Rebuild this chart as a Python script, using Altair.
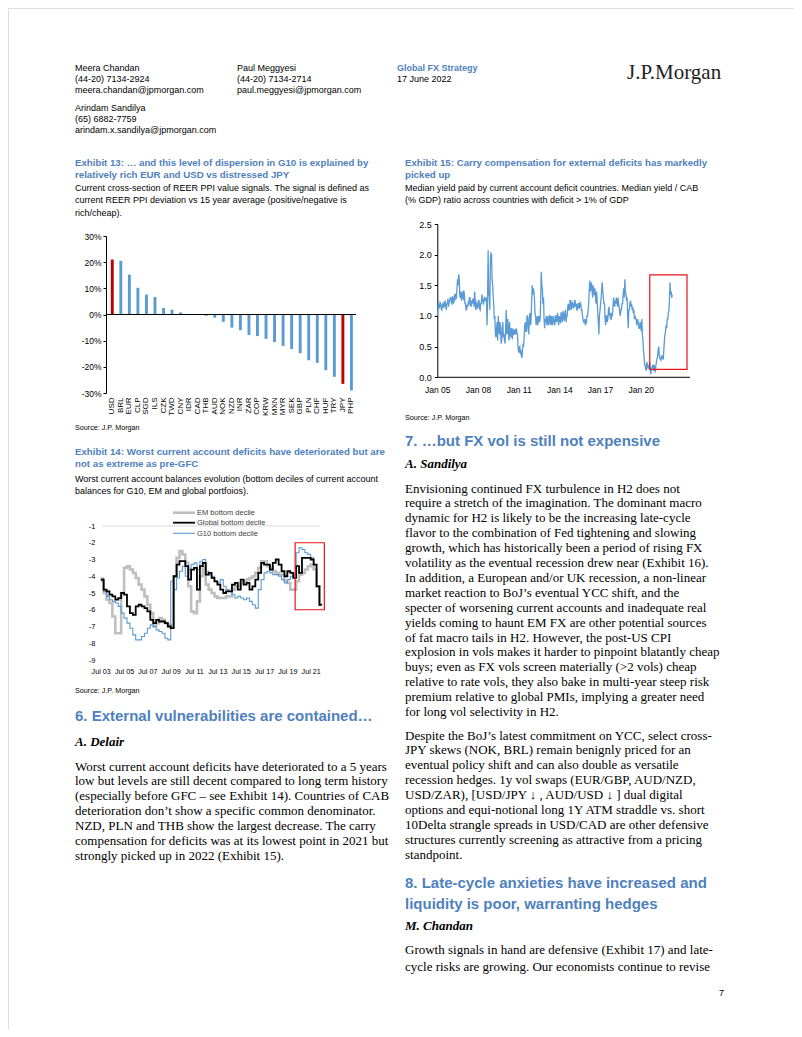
import altair as alt
import pandas as pd

# ---------------- data ----------------
currencies = ["USD", "BRL", "EUR", "CLP", "SGD", "ILS", "CZK", "TWD", "CNY", "IDR",
              "CAD", "THB", "AUD", "NOK", "NZD", "INR", "ZAR", "COP", "KRW", "MXN",
              "MYR", "SEK", "GBP", "PLN", "CHF", "HUF", "TRY", "JPY", "PHP"]
reer_signal_pct = [21.0, 20.5, 15.2, 10.2, 7.6, 6.7, 2.5, 1.8, 0.8, 0.2,
                   0.1, -0.5, -1.2, -2.8, -5.0, -6.0, -7.8, -8.2, -9.3, -10.5,
                   -12.0, -13.2, -14.8, -17.5, -18.5, -21.3, -23.8, -26.5, -29.0]
highlight_ccy = ["USD", "JPY"]
reer_ticks = [-0.3, -0.2, -0.1, 0.0, 0.1, 0.2, 0.3]

cab_series = ["EM bottom decile", "Global bottom decile", "G10 bottom decile"]
cab_em = [-4.3, -5.0, -5.4, -5.6, -6.4, -7.4, -7.4, -5.0, -3.5, -3.4, -3.6, -3.8, -4.1, -4.5, -4.8, -5.2,
          -5.7, -6.2, -7.0, -6.8, -6.5, -6.6, -6.8, -6.9, -7.0, -4.0, -2.9, -2.5, -2.7, -3.2, -4.6, -6.1,
          -6.2, -5.5, -4.0, -3.4, -4.5, -4.8, -5.0, -5.2, -5.3, -5.3, -5.3, -5.2, -5.2, -4.8, -4.6, -4.6,
          -4.4, -4.3, -4.2, -4.1, -4.0, -3.8, -3.5, -3.1, -3.1, -3.4, -3.5, -3.7, -3.8, -3.9, -3.9, -4.3,
          -4.4, -4.8, -4.8, -4.3, -3.9, -3.8, -3.6, -3.4, -3.3, -3.6, -4.6, -5.7, -5.75]
cab_global = [-4.2, -4.8, -4.9, -5.1, -5.2, -5.4, -5.3, -5.0, -5.1, -5.8, -6.2, -6.3, -5.8, -5.7, -5.8, -5.9,
              -6.1, -6.6, -6.8, -6.6, -6.7, -6.7, -6.8, -7.0, -7.1, -4.0, -3.3, -3.1, -3.1, -3.4, -4.2, -3.6,
              -3.5, -4.8, -3.4, -3.2, -3.9, -3.8, -4.1, -4.3, -4.5, -4.8, -5.0, -4.9, -4.9, -4.5, -4.4, -4.8,
              -4.2, -4.5, -4.4, -4.8, -4.6, -4.2, -3.8, -3.2, -3.3, -3.3, -3.6, -3.2, -3.0, -3.3, -3.7, -4.0,
              -3.7, -3.8, -4.1, -3.4, -3.8, -2.9, -2.9, -2.9, -3.0, -3.3, -4.6, -5.7, -5.75]
cab_g10 = [-4.1, -4.9, -5.2, -5.4, -5.5, -5.6, -5.8, -6.2, -6.5, -6.8, -7.1, -7.5, -7.8, -7.8, -7.6, -7.4,
           -7.1, -6.9, -7.0, -7.2, -7.3, -7.4, -7.7, -7.8, -4.3, -4.8, -4.1, -3.7, -3.4, -4.0, -3.6, -3.3,
           -3.2, -3.6, -3.1, -3.0, -3.7, -3.9, -4.0, -4.3, -4.4, -4.2, -4.6, -4.8, -4.9, -5.1, -5.3, -5.2,
           -5.3, -5.4, -5.3, -5.5, -5.7, -5.9, -4.8, -4.2, -3.8, -3.7, -3.8, -3.9, -3.9, -4.0, -4.2, -4.4,
           -4.2, -4.0, -3.9, -2.6, -2.3, -2.4, -2.6, -2.7, -2.9, -3.3, -4.6, -5.7, -5.75]
cab_dates = list(pd.date_range("2003-07-01", periods=76, freq="QS").strftime("%Y-%m-%d")) + ["2022-05-20"]
cab_ticks = [-9, -8, -7, -6, -5, -4, -3, -2, -1]
cab_box_start = ["2020-03-01"]
cab_box_end = ["2022-09-01"]
cab_box_top = [-2.0]
cab_box_bottom = [-6.0]

# semi-monthly readings (1st and 15th of each month)
carry_2005 = [1.0, 1.08, 1.2, 1.12, 1.15, 1.22, 1.2, 1.12, 1.1, 1.18, 1.2, 1.14,
              1.15, 1.22, 1.25, 1.15, 1.1, 1.2, 1.2, 1.28, 1.15, 1.22, 1.25, 1.3]
carry_2006 = [1.3, 1.22, 1.2, 1.32, 1.3, 1.2, 1.25, 1.35, 1.35, 1.28, 1.3, 1.45,
              1.6, 1.5, 1.68, 1.62, 1.3, 1.4, 1.35, 1.25, 1.4, 1.3, 1.28, 1.42]
carry_2007 = [1.35, 1.2, 1.2, 1.1, 1.1, 1.18, 1.15, 1.22, 1.2, 1.3, 1.3, 1.18,
              1.15, 1.25, 1.2, 1.28, 1.25, 1.15, 1.4, 1.3, 1.1, 1.22, 1.2, 1.12]
carry_2008 = [1.15, 1.25, 1.25, 1.12, 1.1, 1.2, 1.2, 1.35, 1.3, 1.22, 1.2, 1.28,
              1.3, 1.25, 1.25, 1.3, 0.85, 1.2, 2.07, 1.4, 1.3, 1.1, 1.9, 2.02]
carry_2009 = [2.0, 1.6, 1.5, 1.3, 1.2, 0.95, 1.0, 0.7, 0.65, 0.8, 0.9, 0.6,
              1.0, 0.85, 0.7, 0.9, 0.8, 0.55, 0.6, 0.8, 0.9, 0.65, 0.7, 0.6]
carry_2010 = [0.55, 0.8, 1.1, 0.7, 0.75, 0.95, 0.7, 0.6, 0.9, 0.75, 0.65, 0.8,
              0.75, 0.62, 0.8, 0.7, 0.7, 0.78, 0.75, 0.7, 0.8, 0.72, 0.7, 0.5]
carry_2011 = [0.4, 0.48, 0.5, 0.38, 0.45, 0.35, 0.32, 0.45, 0.55, 0.5, 0.7, 0.85,
              0.9, 0.75, 0.75, 1.0, 1.0, 0.8, 0.7, 0.95, 1.05, 0.85, 0.9, 1.2]
carry_2012 = [1.5, 1.35, 1.45, 1.4, 1.3, 1.05, 1.0, 0.85, 0.9, 1.0, 0.85, 0.95,
              1.0, 0.9, 0.95, 1.2, 1.72, 1.5, 1.45, 1.2, 1.3, 0.95, 0.8, 0.95]
carry_2013 = [0.9, 1.0, 0.85, 0.95, 1.0, 0.85, 0.9, 1.02, 0.95, 0.85, 1.0, 0.9,
              0.85, 1.0, 0.95, 0.88, 0.85, 1.0, 1.0, 0.9, 0.95, 1.05, 0.9, 0.85]
carry_2014 = [1.0, 0.92, 0.9, 1.05, 1.05, 0.9, 0.95, 1.08, 1.0, 0.92, 1.05, 1.1,
              0.9, 1.0, 1.0, 1.15, 1.2, 1.1, 1.1, 1.25, 1.25, 1.1, 1.15, 1.22]
carry_2015 = [1.2, 1.12, 1.15, 1.25, 1.25, 1.15, 1.2, 1.1, 1.1, 1.2, 1.2, 1.12,
              1.15, 1.22, 1.2, 1.1, 1.1, 1.0, 0.95, 0.9, 0.9, 0.95, 0.85, 0.92]
carry_2016 = [0.9, 1.0, 1.0, 1.1, 1.2, 1.4, 1.58, 1.4, 1.45, 1.55, 1.4, 1.3,
              1.5, 1.35, 1.35, 1.45, 1.3, 1.2, 1.4, 1.25, 1.05, 0.9, 0.7, 1.0]
carry_2017 = [1.1, 1.2, 1.3, 1.45, 1.55, 1.4, 1.3, 1.2, 1.2, 0.95, 0.85, 1.0,
              1.0, 0.9, 0.95, 1.1, 1.15, 1.0, 1.05, 0.95, 0.95, 1.05, 1.0, 1.15]
carry_2018 = [1.3, 1.2, 1.15, 1.25, 1.2, 1.3, 1.25, 1.15, 1.3, 1.2, 1.15, 1.05,
              1.0, 1.1, 1.1, 1.2, 1.2, 1.35, 1.45, 1.3, 1.6, 1.4, 1.35, 1.25]
carry_2019 = [1.3, 1.0, 0.8, 1.1, 1.1, 1.2, 1.25, 1.15, 1.2, 1.1, 1.15, 1.05,
              1.1, 0.95, 1.0, 0.95, 0.95, 0.85, 0.9, 0.95, 0.85, 0.8, 0.8, 0.9]
carry_2020 = [0.85, 0.75, 0.95, 0.7, 0.6, 0.45, 0.35, 0.2, 0.2, 0.12, 0.12, 0.25,
              0.2, 0.15, 0.15, 0.2, 0.25, 0.1, 0.05, 0.15, 0.15, 0.2, 0.2, 0.1]
carry_2021 = [0.2, 0.12, 0.1, 0.2, 0.25, 0.3, 0.35, 0.45, 0.5, 0.35, 0.3, 0.3,
              0.28, 0.35, 0.35, 0.3, 0.3, 0.45, 0.6, 0.7, 0.75, 0.85, 0.8, 0.95]
carry_2022 = [0.95, 1.05, 1.1, 1.3, 1.55, 1.35, 1.4, 1.3, 1.35]
carry_values = (carry_2005 + carry_2006 + carry_2007 + carry_2008 + carry_2009 + carry_2010 +
                carry_2011 + carry_2012 + carry_2013 + carry_2014 + carry_2015 + carry_2016 +
                carry_2017 + carry_2018 + carry_2019 + carry_2020 + carry_2021 + carry_2022)
carry_dates = list(pd.date_range("2005-01-01", periods=len(carry_values), freq="SMS").strftime("%Y-%m-%d"))
carry_ticks = [0.0, 0.5, 1.0, 1.5, 2.0, 2.5]
carry_box_start = ["2020-09-01"]
carry_box_end = ["2023-06-01"]
carry_box_top = [1.67]
carry_box_bottom = [0.13]

# ---------------- texts ----------------
hdr_meera = ["Meera Chandan", "(44-20) 7134-2924", "meera.chandan@jpmorgan.com"]
hdr_arindam = ["Arindam Sandilya", "(65) 6882-7759", "arindam.x.sandilya@jpmorgan.com"]
hdr_paul = ["Paul Meggyesi", "(44-20) 7134-2714", "paul.meggyesi@jpmorgan.com"]
ex13_title = ["Exhibit 13: … and this level of dispersion in G10 is explained by",
              "relatively rich EUR and USD vs distressed JPY"]
ex13_sub = ["Current cross-section of REER PPI value signals. The signal is defined as",
            "current REER PPI deviation vs 15 year average (positive/negative is",
            "rich/cheap)."]
ex14_title = ["Exhibit 14: Worst current account deficits have deteriorated but are",
              "not as extreme as pre-GFC"]
ex14_sub = ["Worst current account balances evolution (bottom deciles of current account",
            "balances for G10, EM and global portfoios)."]
ex15_title = ["Exhibit 15: Carry compensation for external deficits has markedly", "picked up"]
ex15_sub = ["Median yield paid by current account deficit countries. Median yield / CAB",
            "(% GDP) ratio across countries with deficit > 1% of GDP"]
para6 = ["Worst current account deficits have deteriorated to a 5 years",
         "low but levels are still decent compared to long term history",
         "(especially before GFC – see Exhibit 14). Countries of CAB",
         "deterioration don’t show a specific common denominator.",
         "NZD, PLN and THB show the largest decrease. The carry",
         "compensation for deficits was at its lowest point in 2021 but",
         "strongly picked up in 2022 (Exhibit 15)."]
para7a = ["Envisioning continued FX turbulence in H2 does not",
          "require a stretch of the imagination. The dominant macro",
          "dynamic for H2 is likely to be the increasing late-cycle",
          "flavor to the combination of Fed tightening and slowing",
          "growth, which has historically been a period of rising FX",
          "volatility as the eventual recession drew near (Exhibit 16).",
          "In addition, a European and/or UK recession, a non-linear",
          "market reaction to BoJ’s eventual YCC shift, and the",
          "specter of worsening current accounts and inadequate real",
          "yields coming to haunt EM FX are other potential sources",
          "of fat macro tails in H2. However, the post-US CPI",
          "explosion in vols makes it harder to pinpoint blatantly cheap",
          "buys; even as FX vols screen materially (>2 vols) cheap",
          "relative to rate vols, they also bake in multi-year steep risk",
          "premium relative to global PMIs, implying a greater need",
          "for long vol selectivity in H2."]
para7b = ["Despite the BoJ’s latest commitment on YCC, select cross-",
          "JPY skews (NOK, BRL) remain benignly priced for an",
          "eventual policy shift and can also double as versatile",
          "recession hedges.  1y vol swaps (EUR/GBP, AUD/NZD,",
          "USD/ZAR), [USD/JPY ↓ , AUD/USD ↓ ] dual digital",
          "options and equi-notional long 1Y ATM straddle vs. short",
          "10Delta strangle spreads in USD/CAD are other defensive",
          "structures currently screening as attractive from a pricing",
          "standpoint."]
head8 = ["8. Late-cycle anxieties have increased and", "liquidity is poor, warranting hedges"]
para8 = ["Growth signals in hand are defensive (Exhibit 17) and late-",
         "cycle risks are growing. Our economists continue to revise"]

# ---------------- styles ----------------
SANS = "Liberation Sans"
SERIF = "Liberation Serif"
HBLUE = "#4F81BD"
BAR_BLUE = "#5B9BD5"
RED = "#C00000"
BOX_RED = "#E8141B"
M = 8  # page margin
ASCII_MINUS = "replace(datum.label, '\u2212', '-')"

one = pd.DataFrame({"k": [0]})


def DT(y, m, d=1):
    return alt.DateTime(year=y, month=m, date=d, utc=True)


def txt(lines, x, y, size, color="#000000", weight="normal", style="normal",
        font=SANS, lh=None, align="left"):
    return alt.Chart(one).mark_text(
        text=lines, align=align, baseline="alphabetic", font=font, fontSize=size,
        fontWeight=weight, fontStyle=style, color=color,
        lineHeight=lh if lh else size * 1.2
    ).encode(x=alt.value(x - M), y=alt.value(y - M))


texts = [
    txt(hdr_meera, 75, 70.5, 9, lh=11),
    txt(hdr_arindam, 75, 110.5, 9, lh=11),
    txt(hdr_paul, 237, 70.5, 9, lh=11),
    txt(["Global FX Strategy"], 397, 70.5, 9, color=HBLUE, weight="bold"),
    txt(["17 June 2022"], 397, 81.5, 9),
    txt(["J.P.Morgan"], 627, 79, 21, font=SERIF, color="#222222"),
    txt(ex13_title, 75, 165.5, 9.7, color=HBLUE, weight="bold", lh=12),
    txt(ex13_sub, 75, 190.5, 9, lh=12.5),
    txt(["Source: J.P. Morgan"], 75, 430, 7.2),
    txt(ex14_title, 75, 454.5, 9.7, color=HBLUE, weight="bold", lh=12),
    txt(ex14_sub, 75, 481.5, 9, lh=12.5),
    txt(["Source: J.P. Morgan"], 75, 693, 7.2),
    txt(["6. External vulnerabilities are contained…"], 75, 720.5, 15, color=HBLUE, weight="bold"),
    txt(["A. Delair"], 75, 745.5, 13, font=SERIF, weight="bold", style="italic"),
    txt(para6, 75, 770.5, 13, font=SERIF, lh=14.9),
    txt(ex15_title, 405, 165.5, 9.7, color=HBLUE, weight="bold", lh=12),
    txt(ex15_sub, 405, 190.5, 9, lh=12.5),
    txt(["Source: J.P. Morgan"], 405, 420, 7.2),
    txt(["7. …but FX vol is still not expensive"], 405, 445.5, 15, color=HBLUE, weight="bold"),
    txt(["A. Sandilya"], 405, 467.5, 13, font=SERIF, weight="bold", style="italic"),
    txt(para7a, 405, 492.5, 13, font=SERIF, lh=14.9),
    txt(para7b, 405, 739.5, 13, font=SERIF, lh=14.9),
    txt(head8, 405, 887.5, 15, color=HBLUE, weight="bold", lh=21.5),
    txt(["M. Chandan"], 405, 929.5, 13, font=SERIF, weight="bold", style="italic"),
    txt(para8, 405, 953.5, 13, font=SERIF, lh=17.5),
    txt(["7"], 724, 996, 9, align="right"),
]

# ---------------- Exhibit 13: bars ----------------
df13 = pd.DataFrame({"ccy": currencies, "signal": [v / 100 for v in reer_signal_pct]})
x13 = alt.X("ccy:N", sort=None,
            scale=alt.Scale(type="band", range=[108 - M, 355.7 - M], paddingInner=0.66, paddingOuter=0.33),
            axis=alt.Axis(orient="bottom", offset=(393 - M) - 1021, title=None, labelAngle=270,
                          ticks=False, tickSize=0, domain=False, labelPadding=4, labelFontSize=8,
                          labelFont=SANS, labelColor="#000000", labelOverlap=False, grid=False))
y13 = alt.Y("signal:Q",
            scale=alt.Scale(domain=[-0.3, 0.3], range=[393 - M, 236 - M], nice=False, zero=False),
            axis=alt.Axis(orient="left", offset=-(106 - M), title=None, values=reer_ticks, format=".0%",
                          labelExpr=ASCII_MINUS,
                          grid=False, domainColor="#000000", tickColor="#000000", tickSize=3,
                          labelPadding=2, labelFontSize=8.5, labelFont=SANS, labelColor="#000000",
                          labelFlush=False))
bars13 = alt.Chart(df13).mark_bar().encode(
    x=x13, y=y13,
    color=alt.condition(alt.FieldOneOfPredicate(field="ccy", oneOf=highlight_ccy),
                        alt.value(RED), alt.value(BAR_BLUE)))
zero13 = alt.Chart(one).mark_rule(color="#000000", strokeWidth=1).encode(
    y=alt.datum(0), x=alt.value(106 - M), x2=alt.value(356 - M))
chart13 = alt.layer(bars13, zero13)

# ---------------- Exhibit 14: step lines ----------------
df14 = pd.DataFrame({
    "date": cab_dates * 3,
    "series": [cab_series[0]] * len(cab_em) + [cab_series[1]] * len(cab_global) + [cab_series[2]] * len(cab_g10),
    "value": cab_em + cab_global + cab_g10,
})
x14_scale = alt.Scale(type="utc", domain=[DT(2003, 7), DT(2021, 7)], range=[100.7 - M, 310.7 - M], nice=False)
y14_scale = alt.Scale(domain=[-9, -1], range=[660 - M, 526 - M], nice=False, zero=False)
x14_axis = alt.Axis(orient="bottom", offset=(664 - M) - 1021, title=None,
                    values=[DT(y, 7) for y in range(2003, 2022, 2)], format="%b %y",
                    grid=False, domain=False, ticks=False, tickSize=0, labelPadding=3,
                    labelFontSize=7.2, labelFont=SANS, labelColor="#000000", labelOverlap=False,
                    labelFlush=False)
y14_axis = alt.Axis(orient="left", offset=-(97 - M), title=None, values=cab_ticks, format="d",
                    labelExpr=ASCII_MINUS,
                    grid=False, domain=False, ticks=False, tickSize=0, labelPadding=2,
                    labelFontSize=7.5, labelFont=SANS, labelColor="#000000", labelFlush=False)
line_styles = {cab_series[0]: ("#BFBFBF", 2.6), cab_series[2]: ("#5B9BD5", 1.1), cab_series[1]: ("#000000", 1.8)}
lines14 = []
for s in [cab_series[0], cab_series[2], cab_series[1]]:
    c, w = line_styles[s]
    lines14.append(
        alt.Chart(df14).transform_filter(alt.datum.series == s)
        .mark_line(interpolate="step-after", color=c, strokeWidth=w)
        .encode(x=alt.X("date:T", scale=x14_scale, axis=x14_axis),
                y=alt.Y("value:Q", scale=y14_scale, axis=y14_axis)))
top14 = alt.Chart(one).mark_rule(color="#D9D9D9", strokeWidth=1).encode(
    y=alt.datum(-1), x=alt.value(102 - M), x2=alt.value(320 - M))
box14_df = pd.DataFrame({"start": cab_box_start, "end": cab_box_end, "top": cab_box_top, "bottom": cab_box_bottom})
box14 = alt.Chart(box14_df).mark_rect(fillOpacity=0, stroke=BOX_RED, strokeWidth=1.2).encode(
    x=alt.X("start:T", scale=x14_scale, axis=x14_axis), x2="end:T",
    y=alt.Y("top:Q", scale=y14_scale, axis=y14_axis), y2="bottom:Q")
chart14 = alt.layer(top14, *lines14, box14)

legend14 = []
for s, ly in zip(cab_series, [512.7, 522.7, 533.3]):
    c, w = line_styles[s]
    legend14.append(alt.Chart(one).mark_rule(color=c, strokeWidth=w).encode(
        x=alt.value(173 - M), x2=alt.value(195 - M), y=alt.value(ly - M)))
    legend14.append(txt([s], 197, ly + 2.6, 7.5, color="#404040"))

# ---------------- Exhibit 15: line ----------------
df15 = pd.DataFrame({"date": carry_dates, "value": carry_values})
x15_scale = alt.Scale(type="utc", domain=[DT(2005, 1), DT(2020, 1)], range=[437.3 - M, 640.7 - M], nice=False)
y15_scale = alt.Scale(domain=[0, 2.5], range=[377.3 - M, 224 - M], nice=False, zero=False)
x15_axis = alt.Axis(orient="bottom", offset=(377.3 - M) - 1021, title=None,
                    values=[DT(y, 1) for y in range(2005, 2021, 3)], format="%b %y",
                    grid=False, domain=False, ticks=False, tickSize=0, labelPadding=8,
                    labelFontSize=8.5, labelFont=SANS, labelColor="#000000", labelOverlap=False,
                    labelFlush=False)
y15_axis = alt.Axis(orient="left", offset=-(437.3 - M), title=None, values=carry_ticks, format=".1f",
                    grid=False, domainColor="#000000", tickColor="#000000", tickSize=3, labelPadding=3,
                    labelFontSize=9, labelFont=SANS, labelColor="#000000", labelFlush=False)
line15 = alt.Chart(df15).mark_line(color="#5B9BD5", strokeWidth=1.3).encode(
    x=alt.X("date:T", scale=x15_scale, axis=x15_axis),
    y=alt.Y("value:Q", scale=y15_scale, axis=y15_axis))
box15_df = pd.DataFrame({"start": carry_box_start, "end": carry_box_end, "top": carry_box_top, "bottom": carry_box_bottom})
box15 = alt.Chart(box15_df).mark_rect(fillOpacity=0, stroke=BOX_RED, strokeWidth=1.2).encode(
    x=alt.X("start:T", scale=x15_scale, axis=x15_axis), x2="end:T",
    y=alt.Y("top:Q", scale=y15_scale, axis=y15_axis), y2="bottom:Q")
base15 = alt.Chart(one).mark_rule(color="#000000", strokeWidth=1).encode(
    y=alt.datum(0), x=alt.value(437.3 - M), x2=alt.value(690 - M))
chart15 = alt.layer(line15, box15, base15)

chart = alt.layer(*texts, chart13, chart14, *legend14, chart15).resolve_scale(
    x="independent", y="independent"
).resolve_axis(
    x="independent", y="independent"
).properties(
    width=786, height=1021, autosize=alt.AutoSizeParams(type="none"), padding=0
).configure_view(stroke=None).configure(background="#FFFFFF")

chart.save("out.html", embed_options={"renderer": "svg", "actions": False})
